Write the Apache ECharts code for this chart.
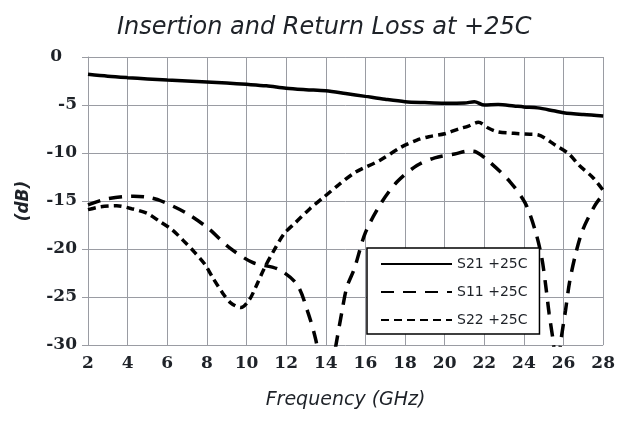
<!DOCTYPE html>
<html>
<head>
<meta charset="utf-8">
<script src="https://cdn.jsdelivr.net/npm/echarts@6/dist/echarts.min.js"></script>
<style>
  html, body { margin: 0; padding: 0; background: #fff; }
  #chart { width: 618px; height: 422px; }
</style>
</head>
<body>
<div id="chart"></div>
<script>
// Frequency axis ticks (GHz) and dB axis ticks
const freqTicks = [2, 4, 6, 8, 10, 12, 14, 16, 18, 20, 22, 24, 26, 28];
const dbTicks = [0, -5, -10, -15, -20, -25, -30];

// S21 insertion loss (dB)
const s21Freq = [2, 3, 4, 5, 6, 7, 8, 9, 10, 11, 12, 13, 14, 15, 16, 17, 18, 19, 20, 21, 21.5, 22, 22.7, 23.5, 24, 24.7, 25.5, 26, 27, 28];
const s21Loss = [-1.8, -2.0, -2.15, -2.28, -2.4, -2.5, -2.6, -2.72, -2.85, -3.0, -3.25, -3.4, -3.52, -3.8, -4.1, -4.4, -4.65, -4.75, -4.82, -4.8, -4.65, -5.0, -4.95, -5.1, -5.2, -5.3, -5.6, -5.8, -6.0, -6.15];

// S11 input return loss (dB)
const s11Freq = [2, 2.9, 4.3, 5.0, 5.7, 7.0, 8.1, 9.1, 10.3, 11.6, 12.55, 13.1, 13.5, 13.8, 14.1, 14.35, 14.54, 14.8, 15.06, 15.45, 16.0, 16.8, 17.6, 18.6, 19.5, 20.5, 21.2, 21.6, 22.3, 23.3, 24.06, 24.56, 24.9, 25.1, 25.27, 25.47, 25.67, 25.87, 26.1, 26.3, 26.6, 26.97, 27.6, 28];
const s11Loss = [-15.4, -14.8, -14.5, -14.6, -15.0, -16.3, -17.9, -19.8, -21.4, -22.1, -23.7, -26.6, -29.5, -33, -35, -32, -29.7, -26.7, -24.0, -22.0, -18.3, -15.2, -13.0, -11.3, -10.5, -10.1, -9.8, -9.9, -11.0, -13.0, -15.2, -18.0, -20.9, -23.8, -26.7, -29.5, -33, -29.5, -26.4, -23.5, -20.6, -18.0, -15.4, -14.3];

// S22 output return loss (dB)
const s22Freq = [2, 2.65, 3.45, 4.2, 5.0, 5.6, 6.25, 6.8, 7.36, 7.9, 8.3, 8.8, 9.2, 9.72, 10.14, 10.48, 10.9, 11.4, 11.9, 12.5, 13.2, 13.9, 14.66, 15.5, 16.7, 17.8, 18.6, 19.2, 20.0, 20.7, 21.2, 21.7, 22.2, 22.7, 23.5, 24.3, 24.7, 25.6, 26.27, 26.8, 27.5, 28];
const s22Loss = [-15.9, -15.6, -15.5, -15.8, -16.3, -17.1, -18.0, -19.1, -20.3, -21.6, -23.0, -24.6, -25.6, -26.1, -25.3, -23.9, -22.0, -20.1, -18.4, -17.2, -15.8, -14.6, -13.3, -12.0, -10.8, -9.4, -8.65, -8.3, -8.0, -7.5, -7.2, -6.8, -7.4, -7.8, -7.95, -8.05, -8.1, -9.2, -10.1, -11.3, -12.6, -13.9];

const seriesNames = ['S21 +25C', 'S11 +25C', 'S22 +25C'];

const pairs = (xs, ys) => xs.map((x, i) => [x, ys[i]]);

const gridGray = '#9a9ca3';
const textDark = '#1e2228';
const serifBold = { fontFamily: 'DejaVu Serif', fontWeight: 'bold', fontSize: 17, color: textDark };

const chart = echarts.init(document.getElementById('chart'), null, { renderer: 'canvas' });

chart.setOption({
  animation: false,
  backgroundColor: '#fff',
  title: {
    text: 'Insertion and Return Loss at +25C',
    left: 112,
    top: 11,
    textStyle: {
      fontFamily: 'DejaVu Sans',
      fontStyle: 'italic',
      fontWeight: 'normal',
      fontSize: 24,
      color: textDark
    }
  },
  grid: { left: 88, right: 12, top: 57, bottom: 77 },
  xAxis: {
    type: 'value',
    min: freqTicks[0],
    max: freqTicks[freqTicks.length - 1],
    interval: 2,
    name: 'Frequency (GHz)',
    nameLocation: 'middle',
    nameGap: 46,
    nameTextStyle: {
      fontFamily: 'DejaVu Sans',
      fontStyle: 'italic',
      fontSize: 19,
      color: textDark
    },
    axisLine: { show: true, lineStyle: { color: gridGray, width: 1 } },
    axisTick: { show: true, inside: false, length: 5, lineStyle: { color: gridGray } },
    splitLine: { show: true, lineStyle: { color: gridGray, width: 1 } },
    axisLabel: Object.assign({ margin: 10 }, serifBold)
  },
  yAxis: {
    type: 'value',
    min: dbTicks[dbTicks.length - 1],
    max: dbTicks[0],
    interval: 5,
    name: '(dB)',
    nameLocation: 'middle',
    nameRotate: 90,
    nameGap: 56,
    nameTextStyle: {
      fontFamily: 'DejaVu Sans',
      fontStyle: 'italic',
      fontWeight: 'bold',
      fontSize: 17,
      color: textDark
    },
    axisLine: { show: true, lineStyle: { color: gridGray, width: 1 } },
    axisTick: { show: true, inside: false, length: 6, lineStyle: { color: gridGray } },
    splitLine: { show: true, lineStyle: { color: gridGray, width: 1 } },
    axisLabel: Object.assign({
      margin: 11,
      formatter: v => (v === 0 ? '{zero|0}' : String(v)),
      rich: { zero: Object.assign({ padding: [0, 15, 0, 0] }, serifBold) }
    }, serifBold)
  },
  legend: {
    orient: 'vertical',
    left: 367,
    top: 248,
    padding: [9, 12, 7, 13],
    itemWidth: 71,
    itemHeight: 14,
    itemGap: 14,
    backgroundColor: '#fff',
    borderColor: '#000',
    borderWidth: 1.5,
    borderRadius: 0,
    // line samples only, no marker on them
    itemStyle: { opacity: 0 },
    textStyle: { fontFamily: 'DejaVu Sans', fontSize: 14, color: textDark },
    data: seriesNames
  },
  series: [
    {
      name: seriesNames[0],
      type: 'line',
      data: pairs(s21Freq, s21Loss),
      smooth: 0.3,
      symbol: 'none',
      lineStyle: { color: '#000', width: 3.5, type: 'solid' },
      itemStyle: { color: '#000' }
    },
    {
      name: seriesNames[1],
      type: 'line',
      data: pairs(s11Freq, s11Loss),
      smooth: 0.3,
      symbol: 'none',
      lineStyle: { color: '#000', width: 3.5, type: [13, 9] },
      itemStyle: { color: '#000' }
    },
    {
      name: seriesNames[2],
      type: 'line',
      data: pairs(s22Freq, s22Loss),
      smooth: 0.3,
      symbol: 'none',
      lineStyle: { color: '#000', width: 3.5, type: [8, 5] },
      itemStyle: { color: '#000' }
    }
  ]
});
</script>
</body>
</html>
